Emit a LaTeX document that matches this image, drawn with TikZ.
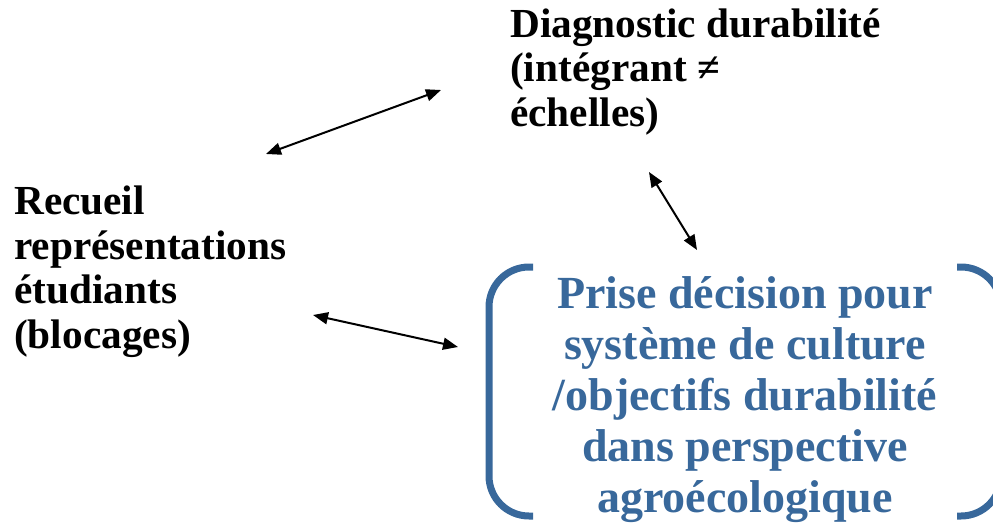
\documentclass[tikz,border=0pt]{standalone}
\usepackage{fontspec}
\setmainfont{Liberation Serif}
\usetikzlibrary{arrows.meta}
\definecolor{bracketblue}{HTML}{38689B}
\tikzset{
  blacktext/.style={font=\bfseries\fontsize{41.3}{44.5}\selectfont, align=left, inner sep=0pt, text=black},
  bluetext/.style={font=\bfseries\fontsize{46}{51}\selectfont, align=center, inner sep=0pt, text=bracketblue},
  link/.style={line width=2pt, {Triangle[length=15pt,width=12pt]}-{Triangle[length=15pt,width=12pt]}},
  bracketline/.style={line width=7pt, draw=bracketblue, rounded corners=40pt}
}
\begin{document}
\begin{tikzpicture}[x=1pt,y=-1pt]
\useasboundingbox (0,0) rectangle (993,522);
\node[blacktext, anchor=base west] (diag) at (510,126) {Diagnostic durabilité\\(intégrant ≠\\échelles)};
\node[blacktext, anchor=base west] (recueil) at (14,348) {Recueil\\représentations\\étudiants\\(blocages)};
\node[bluetext, anchor=base] (prise) at (745,512) {Prise décision pour\\système de culture\\/objectifs durabilité\\dans perspective\\agroécologique};
\draw[bracketline] (533,267) -- (489,267) -- (489,516) -- (533,516);
\draw[bracketline] (957,267) -- (1001,267) -- (1001,516) -- (957,516);
\coordinate (a1) at (266,154);
\coordinate (a2) at (441,90);
\coordinate (b1) at (649,172);
\coordinate (b2) at (697,250);
\coordinate (c1) at (313,315);
\coordinate (c2) at (458,347);
\draw[link] (a1) -- (a2);
\draw[link] (b1) -- (b2);
\draw[link] (c1) -- (c2);
\end{tikzpicture}
\end{document}
